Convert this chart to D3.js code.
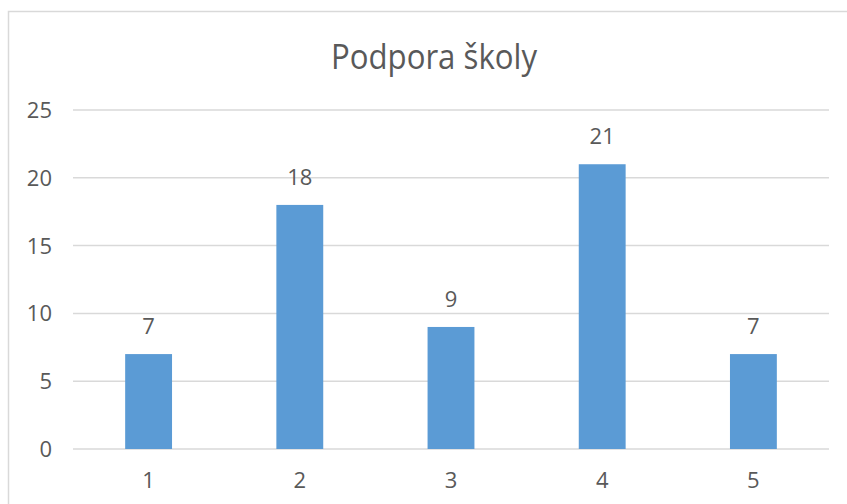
<!DOCTYPE html>
<html lang="cs">
<head>
<meta charset="UTF-8">
<title>Podpora školy</title>
<script src="https://d3js.org/d3.v7.min.js"></script>
<style>
  body { margin: 0; background: #fff; }
  text { font-family: "Open Sans", "Noto Sans", sans-serif; fill: #595959; }
</style>
</head>
<body>
<svg id="chart" width="847" height="504"></svg>
<script>
    const categories = ["1", "2", "3", "4", "5"];
    const values = [7, 18, 9, 21, 7];
    const yTicks = [0, 5, 10, 15, 20, 25];
    const title = "Podpora školy";

    const width = 847, height = 504;
    const plot = { left: 73, right: 829, top: 110, bottom: 449 };

    const svg = d3.select("#chart");

    // rámeček grafu
    svg.append("rect")
        .attr("x", 8.5).attr("y", 11.5)
        .attr("width", 860).attr("height", 520)
        .attr("fill", "#fff")
        .attr("stroke", "#d9d9d9")
        .attr("stroke-width", 1.5);

    const x = d3.scaleBand()
        .domain(categories)
        .range([plot.left, plot.right]);

    const y = d3.scaleLinear()
        .domain([0, 25])
        .range([plot.bottom, plot.top]);

    const barW = x.bandwidth() * 0.31;

    // mřížka
    svg.append("g")
        .selectAll("line")
        .data(yTicks)
        .join("line")
        .attr("x1", plot.left).attr("x2", plot.right)
        .attr("y1", d => y(d)).attr("y2", d => y(d))
        .attr("stroke", "#d9d9d9")
        .attr("stroke-width", 1.5);

    // popisky osy y
    svg.append("g")
        .selectAll("text")
        .data(yTicks)
        .join("text")
        .attr("x", 52)
        .attr("y", d => y(d) + 8)
        .attr("text-anchor", "end")
        .attr("font-size", 22)
        .text(d => d);

    // sloupce
    svg.append("g")
        .selectAll("rect")
        .data(values)
        .join("rect")
        .attr("x", (d, i) => x(categories[i]) + x.bandwidth() / 2 - barW / 2)
        .attr("width", barW)
        .attr("y", d => y(d))
        .attr("height", d => y(0) - y(d))
        .attr("fill", "#5b9bd5");

    // hodnoty nad sloupci
    svg.append("g")
        .selectAll("text")
        .data(values)
        .join("text")
        .attr("x", (d, i) => x(categories[i]) + x.bandwidth() / 2)
        .attr("y", d => y(d) - 20)
        .attr("text-anchor", "middle")
        .attr("font-size", 22)
        .text(d => d);

    // popisky osy x
    svg.append("g")
        .selectAll("text")
        .data(categories)
        .join("text")
        .attr("x", d => x(d) + x.bandwidth() / 2)
        .attr("y", 488)
        .attr("text-anchor", "middle")
        .attr("font-size", 22)
        .text(d => d);

    svg.append("text")
        .attr("x", 434)
        .attr("y", 69)
        .attr("text-anchor", "middle")
        .attr("font-size", 35)
        .attr("textLength", 206)
        .attr("lengthAdjust", "spacingAndGlyphs")
        .text(title);
</script>
</body>
</html>
